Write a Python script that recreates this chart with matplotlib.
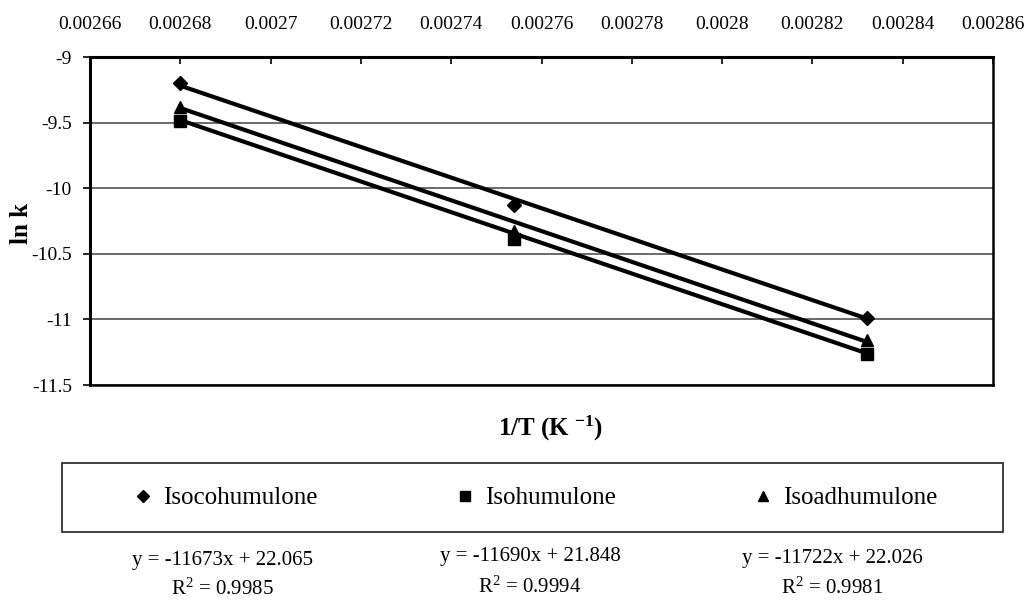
import numpy as np
import matplotlib
matplotlib.use("Agg")
import matplotlib.pyplot as plt
from matplotlib.lines import Line2D
from matplotlib.patches import Rectangle

plt.rcParams['font.family'] = ['Liberation Serif', 'DejaVu Serif']
plt.rcParams['mathtext.fontset'] = 'custom'
plt.rcParams['mathtext.rm'] = 'Liberation Serif'
plt.rcParams['mathtext.bf'] = 'Liberation Serif:bold'
plt.rcParams['mathtext.default'] = 'regular'
plt.rcParams['axes.unicode_minus'] = False

# data
inv_T = [0.002680, 0.002754, 0.002832]
series_names = ['Isocohumulone', 'Isohumulone', 'Isoadhumulone']
series_markers = ['D', 's', '^']
ln_k = {
    'Isocohumulone': [-9.20, -10.13, -10.99],
    'Isohumulone': [-9.49, -10.39, -11.26],
    'Isoadhumulone': [-9.38, -10.33, -11.16],
}
slopes = [-11673, -11690, -11722]
intercepts = [22.065, 21.848, 22.026]
r_squared = ['0.9985', '0.9994', '0.9981']

x_ticks = [0.00266, 0.00268, 0.0027, 0.00272, 0.00274, 0.00276,
           0.00278, 0.0028, 0.00282, 0.00284, 0.00286]
x_tick_labels = ['0.00266', '0.00268', '0.0027', '0.00272', '0.00274', '0.00276',
                 '0.00278', '0.0028', '0.00282', '0.00284', '0.00286']
y_ticks = [-11.5, -11, -10.5, -10, -9.5, -9]
y_tick_labels = ['-11.5', '-11', '-10.5', '-10', '-9.5', '-9']

W, H = 1030, 601
fig = plt.figure(figsize=(W / 100, H / 100), dpi=100)
ax = fig.add_axes([90 / W, 1 - 385 / H, 903 / W, 328 / H])

x = np.array(inv_T)
for name, mk, m, b in zip(series_names, series_markers, slopes, intercepts):
    ax.plot(x, m * x + b, color='black', lw=3, solid_capstyle='butt', zorder=3)
    ax.plot(x, ln_k[name], linestyle='none', marker=mk, ms=8 if mk != 'D' else 7,
            color='black', zorder=4)

ax.set_xlim(0.00266, 0.00286)
ax.set_ylim(-11.5, -9)
ax.set_xticks(x_ticks)
ax.set_xticklabels(x_tick_labels)
ax.set_yticks(y_ticks)
ax.set_yticklabels(y_tick_labels)
ax.xaxis.tick_top()
ax.tick_params(axis='x', direction='in', length=5, width=1.2, pad=17, labelsize=14)
ax.tick_params(axis='y', direction='out', length=5, width=1.2, pad=8, labelsize=14)
ax.yaxis.grid(True, color='#505050', lw=1.2)
ax.set_axisbelow(True)
for side in ['left', 'top']:
    ax.spines[side].set_linewidth(2.2)
for side in ['right', 'bottom']:
    ax.spines[side].set_linewidth(1.8)

fig.text(551 / W, 1 - 428 / H, '1/T (K $^{\\mathbf{-1}}$)', ha='center', va='center',
         fontsize=18, fontweight='bold')
fig.text(21 / W, 1 - 224 / H, 'ln k', ha='center', va='center', rotation=90,
         fontsize=18, fontweight='bold')

# legend
handles = [Line2D([], [], ls='none', marker=mk, color='black', ms=7 if mk != 'D' else 6)
           for mk in series_markers]
fig.legend(handles, series_names, loc='center', bbox_to_anchor=(535 / W, 1 - 498 / H),
           ncol=3, frameon=False, fontsize=18, handlelength=0.8, handletextpad=0.4,
           columnspacing=5.5)
fig.add_artist(Rectangle((62 / W, 1 - 532 / H), 941 / W, 69 / H, transform=fig.transFigure,
                         fill=False, edgecolor='#303030', lw=1.3))

# trendline equations
eq_x = [222, 530, 832]
eq_y = [561, 556, 559]
r2_y = [589, 587, 588]
for i in range(3):
    fig.text(eq_x[i] / W, 1 - eq_y[i] / H, 'y = %dx + %.3f' % (slopes[i], intercepts[i]),
             ha='center', va='center', fontsize=15)
    fig.text(eq_x[i] / W, 1 - r2_y[i] / H, 'R$^2$ = ' + r_squared[i],
             ha='center', va='center', fontsize=15)

fig.savefig('out.png', dpi=100)
